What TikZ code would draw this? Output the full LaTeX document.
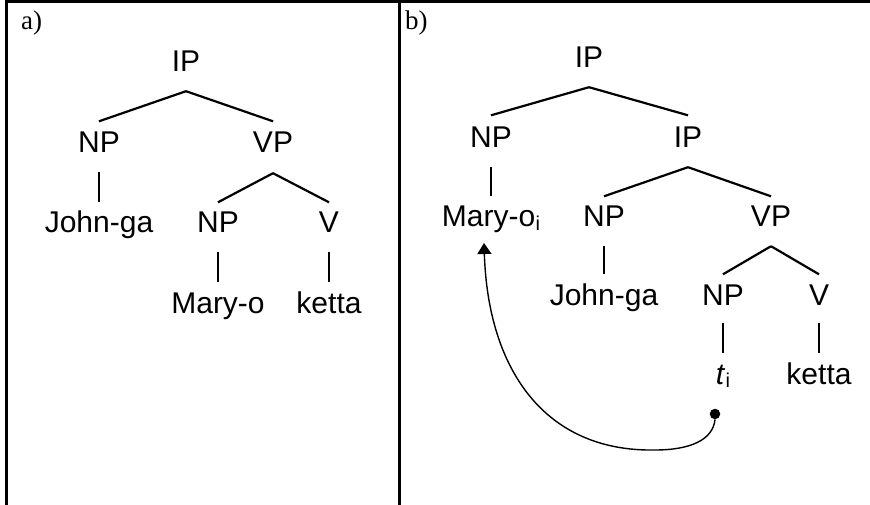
\documentclass[tikz,border=0pt]{standalone}
\usepackage{fontspec}
\setmainfont{Liberation Sans}
\newfontfamily\timesfam{Liberation Serif}
\usetikzlibrary{arrows.meta}
\newcommand\subi{\kern0.5pt\raisebox{-3.5pt}{\fontsize{20}{24}\selectfont i}}
\begin{document}
\begin{tikzpicture}[x=1pt,y=-1pt,
  lab/.style={anchor=base,inner sep=0pt,text height=21.5pt,text depth=0pt,font=\fontsize{30}{36}\selectfont},
  branch/.style={line width=2.2pt},
  frame/.style={line width=3pt},
  panel/.style={anchor=base west,inner sep=0pt,font=\timesfam\fontsize{27}{32}\selectfont},
  move/.style={line width=1.4pt,-{Triangle[length=11pt,width=14pt]}}]
\useasboundingbox (0,0) rectangle (870,505);
% table frame
\draw[frame] (5,1.5) -- (870,1.5);
\draw[frame] (6.5,0) -- (6.5,505);
\draw[frame] (399.5,0) -- (399.5,505);
\node[panel] (pa) at (21,30) {a)};
\node[panel] (pb) at (405,30) {b)};
% tree a
\node[lab] (ipA)  at (186,72)  {IP};
\node[lab] (npA)  at (99,153)  {NP};
\node[lab] (vpA)  at (273,153) {VP};
\node[lab] (jgA)  at (99,233)  {John-ga};
\node[lab] (np2A) at (218,233) {NP};
\node[lab] (vA)   at (329,233) {V};
\node[lab] (moA)  at (218,313) {Mary-o};
\node[lab] (kA)   at (329,313) {ketta};
\draw[branch] ([yshift=-19pt]ipA.south) -- ([yshift=10pt]npA.north);
\draw[branch] ([yshift=-19pt]ipA.south) -- ([yshift=10pt]vpA.north);
\draw[branch] ([yshift=-19pt]npA.south) -- ([yshift=9pt]jgA.north);
\draw[branch] ([yshift=-20pt]vpA.south) -- ([yshift=9pt]np2A.north);
\draw[branch] ([yshift=-20pt]vpA.south) -- ([yshift=9pt]vA.north);
\draw[branch] ([yshift=-19pt]np2A.south) -- ([yshift=9pt]moA.north);
\draw[branch] ([yshift=-19pt]vA.south) -- ([yshift=9pt]kA.north);
% tree b
\node[lab] (ipB)  at (589,68)  {IP};
\node[lab] (npB)  at (491,148) {NP};
\node[lab] (ip2B) at (688,148) {IP};
\node[lab] (moB)  at (491,227) {Mary-o\subi};
\node[lab] (np2B) at (604,227) {NP};
\node[lab] (vpB)  at (771,227) {VP};
\node[lab] (jgB)  at (604,305) {John-ga};
\node[lab] (np3B) at (723,305) {NP};
\node[lab] (vB)   at (819,305) {V};
\node[lab] (tB)   at (723,384) {\textit{t}\subi};
\node[lab] (kB)   at (819,384) {ketta};
\draw[branch] ([yshift=-19pt]ipB.south) -- ([yshift=11pt]npB.north);
\draw[branch] ([yshift=-19pt]ipB.south) -- ([yshift=11pt]ip2B.north);
\draw[branch] ([yshift=-19pt]npB.south) -- ([yshift=9pt]moB.north);
\draw[branch] ([yshift=-19pt]ip2B.south) -- ([yshift=9pt]np2B.north);
\draw[branch] ([yshift=-19pt]ip2B.south) -- ([yshift=9pt]vpB.north);
\draw[branch] ([yshift=-19pt]np2B.south) -- ([yshift=9pt]jgB.north);
\draw[branch] ([yshift=-19pt]vpB.south) -- ([yshift=9pt]np3B.north);
\draw[branch] ([yshift=-19pt]vpB.south) -- ([yshift=9pt]vB.north);
\draw[branch] ([yshift=-18pt]np3B.south) -- ([yshift=9pt]tB.north);
\draw[branch] ([yshift=-18pt]vB.south) -- ([yshift=9pt]kB.north);
% movement arrow
\node[circle,fill,inner sep=0pt,minimum size=10.5pt] (trace) at (715,414) {};
\coordinate (bend) at (655,450);
\coordinate (landing) at (484,243);
\draw[move] (trace.south) .. controls (713,440) and (690,450) .. (bend)
  .. controls (545,452) and (488,370) .. (landing);
\end{tikzpicture}
\end{document}
